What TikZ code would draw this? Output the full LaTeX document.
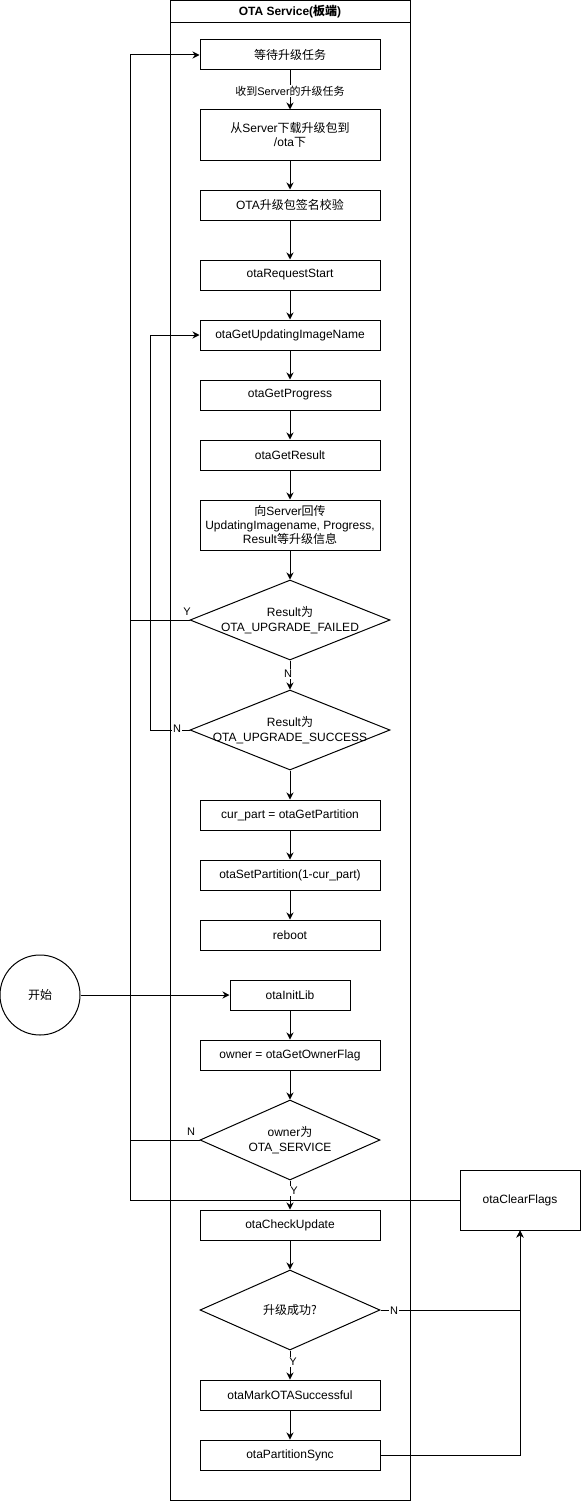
\documentclass[tikz,border=0pt]{standalone}
\usepackage{fontspec}
\setmainfont{Liberation Sans}
\newfontfamily\cjk{Noto Sans CJK SC}
\newcommand\zh[1]{{\cjk #1}}
\usetikzlibrary{arrows.meta,shapes.geometric}
\begin{document}
\begin{tikzpicture}[x=1pt,y=-1pt,
  every node/.style={font=\fontsize{12}{14.4}\selectfont},
  box/.style={draw, line width=1pt, minimum width=180pt, minimum height=30pt, inner sep=0pt, align=center},
  dia/.style={draw, line width=1pt, diamond, inner sep=0pt},
  lbl/.style={font=\fontsize{11}{13}\selectfont, fill=white, inner sep=1pt},
  lblt/.style={font=\fontsize{11}{13}\selectfont, inner sep=1pt},
  conn/.style={line width=1pt},
  arr/.style={line width=1pt, -{Stealth[length=7pt,width=7pt]}}]
\useasboundingbox (0,0) rectangle (581,1501);
% swimlane
\draw[line width=1pt] (170.5,0.5) rectangle (410,1500);
\draw[line width=1pt] (170.5,23) -- (410,23);
\node[font=\bfseries\fontsize{12}{14.4}\selectfont] (title) at (290,12) {OTA Service(\zh{板端})};
% boxes
\node[box] (b1) at (290,55) {\zh{等待升级任务}};
\node[box, minimum height=50pt] (b2) at (290,135) {\zh{从}Server\zh{下载升级包到}\\/ota\zh{下}};
\node[box] (b3) at (290,205) {OTA\zh{升级包签名校验}};
\node[box] (b4) at (290,275) {otaRequestStart};
\node[box] (b5) at (290,335) {otaGetUpdatingImageName};
\node[box] (b6) at (290,395) {otaGetProgress};
\node[box] (b7) at (290,455) {otaGetResult};
\node[box, minimum height=50pt] (b8) at (290,525) {\zh{向}Server\zh{回传}\\UpdatingImagename, Progress,\\Result\zh{等升级信息}};
\node[dia, minimum width=200pt, minimum height=80pt] (d1) at (290,620) {};
\node[align=center] at (d1) {Result\zh{为}\\OTA\_UPGRADE\_FAILED};
\node[dia, minimum width=200pt, minimum height=80pt] (d2) at (290,730) {};
\node[align=center] at (d2) {Result\zh{为}\\OTA\_UPGRADE\_SUCCESS};
\node[box] (b9) at (290,815) {cur\_part = otaGetPartition};
\node[box] (b10) at (290,875) {otaSetPartition(1-cur\_part)};
\node[box] (b11) at (290,935) {reboot};
\node[draw, line width=1pt, circle, minimum size=80pt, inner sep=0pt] (start) at (40,995) {\zh{开始}};
\node[box, minimum width=120pt] (b12) at (290,995) {otaInitLib};
\node[box] (b13) at (290,1055) {owner = otaGetOwnerFlag};
\node[dia, minimum width=180pt, minimum height=80pt] (d3) at (290,1140) {};
\node[align=center] at (d3) {owner\zh{为}\\OTA\_SERVICE};
\node[box] (b14) at (290,1225) {otaCheckUpdate};
\node[dia, minimum width=180pt, minimum height=80pt] (d4) at (290,1310) {};
\node at (d4) {\zh{升级成功?}};
\node[box] (b15) at (290,1395) {otaMarkOTASuccessful};
\node[box] (b16) at (290,1455) {otaPartitionSync};
\node[box, minimum width=120pt, minimum height=60pt] (cf) at (520,1200) {otaClearFlags};
% coordinates for loops
\coordinate (lA) at (130,55);
\coordinate (lB) at (130,1200);
\coordinate (lC) at (150,335);
\coordinate (lD) at (150,730);
\coordinate (lE) at (130,620);
\coordinate (lF) at (130,1140);
\coordinate (rA) at (520,1310);
\coordinate (rB) at (520,1455);
% main flow
\draw[arr] (b1) -- (b2);
\node[lbl] at (290,91) {\zh{收到}Server\zh{的升级任务}};
\draw[arr] (b2) -- (b3);
\draw[arr] (b3) -- (b4);
\draw[arr] (b4) -- (b5);
\draw[arr] (b5) -- (b6);
\draw[arr] (b6) -- (b7);
\draw[arr] (b7) -- (b8);
\draw[arr] (b8) -- (d1.north);
\draw[arr] (d1.south) -- (d2.north);
\node[lbl] at (288,674) {N};
\draw[arr] (d2.south) -- (b9);
\draw[arr] (b9) -- (b10);
\draw[arr] (b10) -- (b11);
\draw[arr] (start) -- (b12);
\draw[arr] (b12) -- (b13);
\draw[arr] (b13) -- (d3.north);
\draw[arr] (d3.south) -- (b14);
\node[lbl] at (294,1191) {Y};
\draw[arr] (b14) -- (d4.north);
\draw[arr] (d4.south) -- (b15);
\node[lbl] at (293,1362) {Y};
\draw[arr] (b15) -- (b16);
% loops
\draw[conn] (d1.west) -- (lE);
\node[lblt] at (187,612) {Y};
\draw[arr] (d2.west) -- (lD) -- (lC) -- (b5.west);
\node[lbl] at (177,729) {N};
\draw[conn] (d3.west) -- (lF);
\node[lblt] at (191,1132) {N};
\draw[arr] (cf.west) -- (lB) -- (lA) -- (b1.west);
\draw[arr] (d4.east) -- (rA) -- (cf.south);
\node[lbl] at (394,1311) {N};
\draw[arr] (b16.east) -- (rB) -- (cf.south);
\end{tikzpicture}
\end{document}
